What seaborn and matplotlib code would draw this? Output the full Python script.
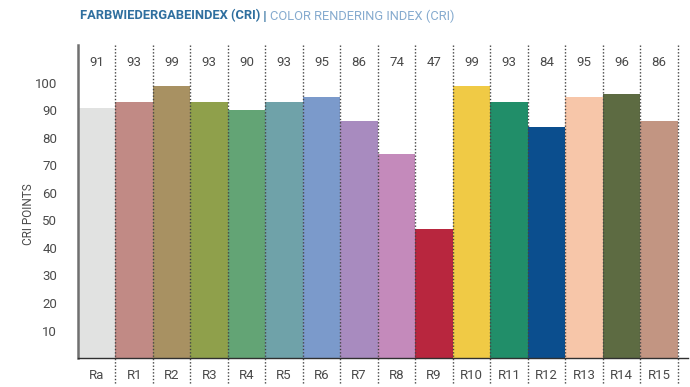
import matplotlib
matplotlib.use("Agg")
import matplotlib.pyplot as plt
import seaborn as sns
import pandas as pd

categories = ["Ra", "R1", "R2", "R3", "R4", "R5", "R6", "R7", "R8",
              "R9", "R10", "R11", "R12", "R13", "R14", "R15"]
values = [91, 93, 99, 93, 90, 93, 95, 86, 74, 47, 99, 93, 84, 95, 96, 86]
colors = ["#e1e2e1", "#c18a85", "#a89162", "#8fa04b", "#63a475", "#6fa2a9",
          "#7b9acb", "#a88bbf", "#c48abb", "#b8263e", "#f0ca45", "#218e69",
          "#0b4e8e", "#f7c6a9", "#5d6b42", "#c29582"]
yticks = [10, 20, 30, 40, 50, 60, 70, 80, 90, 100]

df = pd.DataFrame({"index": categories, "cri": values})

sns.set_theme(style="white")
plt.rcParams["font.family"] = ["Roboto", "DejaVu Sans"]

fig = plt.figure(figsize=(6.9, 3.87), dpi=100)
ax = fig.add_axes([0.113, 0.0749, 0.884, 0.8088])

sns.barplot(data=df, x="index", y="cri", hue="index", palette=colors,
            width=1.0, saturation=1, legend=False, ax=ax, linewidth=0)

ymax = 113.8
ax.set_ylim(0, ymax)
ax.set_xlim(-0.5, 15.77)

# dotted separators between the columns, running through the label rows
for i in range(len(categories)):
    ax.plot([i + 0.5, i + 0.5], [ymax, -9.8], linestyle=(0, (1, 1.4)),
            color="#444444", linewidth=1.0, clip_on=False, zorder=5)

# value row above the bars
for i, v in enumerate(values):
    ax.text(i, 107.3, str(v), ha="center", va="center", fontsize=9.5,
            color="#4a4a4a")

ax.set_yticks(yticks)
ax.set_yticklabels([str(t) for t in yticks], fontsize=9.5, color="#4a4a4a")
ax.tick_params(axis="y", length=0, pad=15)
ax.tick_params(axis="x", length=0, pad=8, labelsize=9.5, labelcolor="#4a4a4a")
ax.set_xlabel("")
ax.set_ylabel("CRI POINTS", fontsize=8.5, color="#4a4a4a")
ax.yaxis.set_label_coords(-0.07, 0.46)

for s in ["top", "right"]:
    ax.spines[s].set_visible(False)
ax.spines["left"].set_color("#707070")
ax.spines["left"].set_linewidth(1.8)
ax.spines["bottom"].set_color("#303030")
ax.spines["bottom"].set_linewidth(1.0)

# two-tone heading
ty = 1 - 16 / 387
t1 = fig.text(80 / 690, ty, "FARBWIEDERGABEINDEX (CRI)", fontsize=9.3,
              fontweight="bold", color="#2f6f9f", va="center", ha="left")
fig.canvas.draw()
bb = t1.get_window_extent()
t2 = fig.text(bb.x1 / fig.bbox.width, ty, " | ", fontsize=9.3,
              fontweight="bold", color="#2f6f9f", va="center", ha="left")
fig.canvas.draw()
bb2 = t2.get_window_extent()
fig.text(bb2.x1 / fig.bbox.width, ty, "COLOR RENDERING INDEX (CRI)",
         fontsize=9.3, color="#86abcf", va="center", ha="left")

fig.savefig("out.png", dpi=100)
